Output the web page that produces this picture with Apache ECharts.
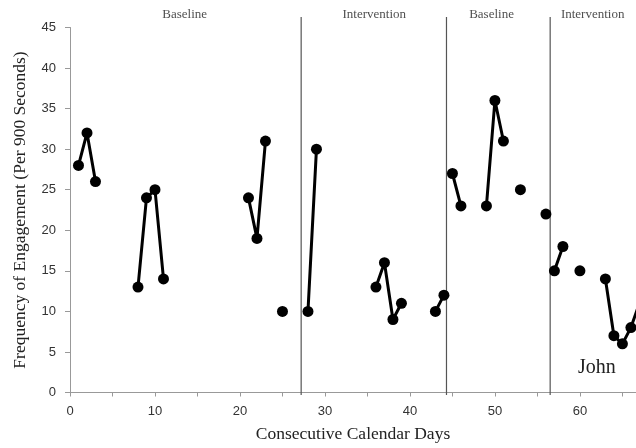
<!DOCTYPE html>
<html>
<head>
<meta charset="utf-8">
<script src="https://cdn.jsdelivr.net/npm/echarts@6/dist/echarts.min.js"></script>
<style>
  html, body {margin: 0; padding: 0; background: #fff;}
  #chart {width: 636px; height: 448px;}
</style>
</head>
<body>
<div id="chart"></div>
<script>
// phase data: days and engagement counts
const baseline1Days = [1, 2, 3, 8, 9, 10, 11, 21, 22, 23, 25];
const baseline1Values = [28, 32, 26, 13, 24, 25, 14, 24, 19, 31, 10];
const intervention1Days = [28, 29, 36, 37, 38, 39, 43, 44];
const intervention1Values = [10, 30, 13, 16, 9, 11, 10, 12];
const baseline2Days = [45, 46, 49, 50, 51, 53, 56];
const baseline2Values = [27, 23, 23, 36, 31, 25, 22];
const intervention2Days = [57, 58, 60, 63, 64, 65, 66, 67];
const intervention2Values = [15, 18, 15, 14, 7, 6, 8, 11];

const phaseChanges = [27.2, 44.3, 56.5];
const phaseLabels = ['Baseline', 'Intervention', 'Baseline', 'Intervention'];
const phaseLabelDays = [13.5, 35.8, 49.6, 61.5];

// break the line where days are not consecutive
const toSeries = (days, values) => {
  const out = [];
  days.forEach((d, i) => {
    if (i > 0 && d - days[i - 1] > 1) out.push([d - 0.5, null]);
    out.push([d, values[i]]);
  });
  return out;
};

const dataSeries = (days, values) => ({
  type: 'line',
  data: toSeries(days, values),
  symbol: 'circle',
  symbolSize: 11,
  connectNulls: false,
  itemStyle: {color: '#000'},
  lineStyle: {color: '#000', width: 3},
  clip: true,
  silent: true,
  z: 3,
});

const phaseLine = x => ({
  type: 'line',
  data: [[x, -0.3], [x, 46.3]],
  symbol: 'none',
  clip: false,
  lineStyle: {color: '#555', width: 1.2},
  silent: true,
  z: 2,
});

const chart = echarts.init(document.getElementById('chart'));
chart.setOption({
  animation: false,
  backgroundColor: '#fff',
  grid: {left: 70, right: 0, top: 27.5, bottom: 55.5, outerBoundsMode: 'none', containLabel: false},
  xAxis: {
    type: 'value',
    min: 0,
    max: 66.6,
    interval: 10,
    name: 'Consecutive Calendar Days',
    nameLocation: 'middle',
    nameGap: 33,
    nameTextStyle: {fontFamily: 'Liberation Serif', fontSize: 17.5, color: '#222'},
    axisLine: {lineStyle: {color: '#999'}},
    axisTick: {show: true, length: 4, lineStyle: {color: '#999'}},
    minorTick: {show: true, splitNumber: 2, length: 4, lineStyle: {color: '#999'}},
    splitLine: {show: false},
    axisLabel: {
      fontFamily: 'Liberation Sans',
      fontSize: 13,
      color: '#333',
      margin: 12,
      formatter: v => (v % 10 === 0 ? String(v) : ''),
    },
  },
  yAxis: {
    type: 'value',
    min: 0,
    max: 45,
    interval: 5,
    name: 'Frequency of Engagement (Per 900 Seconds)',
    nameLocation: 'middle',
    nameGap: 41,
    nameTextStyle: {fontFamily: 'Liberation Serif', fontSize: 17.5, color: '#222'},
    axisLine: {show: true, lineStyle: {color: '#999'}},
    axisTick: {show: true, length: 5, lineStyle: {color: '#999'}},
    splitLine: {show: false},
    axisLabel: {fontFamily: 'Liberation Sans', fontSize: 13, color: '#333', margin: 14},
  },
  graphic: [
    {
      type: 'text',
      left: 578,
      top: 358,
      style: {text: 'John', font: '20px "Liberation Serif"', fill: '#222'},
    },
  ],
  series: [
    dataSeries(baseline1Days, baseline1Values),
    dataSeries(intervention1Days, intervention1Values),
    dataSeries(baseline2Days, baseline2Values),
    dataSeries(intervention2Days, intervention2Values),
    ...phaseChanges.map(phaseLine),
    {
      type: 'scatter',
      data: phaseLabelDays.map((d, i) => ({value: [d, 46.55], name: phaseLabels[i]})),
      symbolSize: 0,
      clip: false,
      silent: true,
      label: {
        show: true,
        position: 'inside',
        formatter: p => p.name,
        fontFamily: 'Liberation Serif',
        fontSize: 13,
        color: '#222',
      },
    },
  ],
});
</script>
</body>
</html>
